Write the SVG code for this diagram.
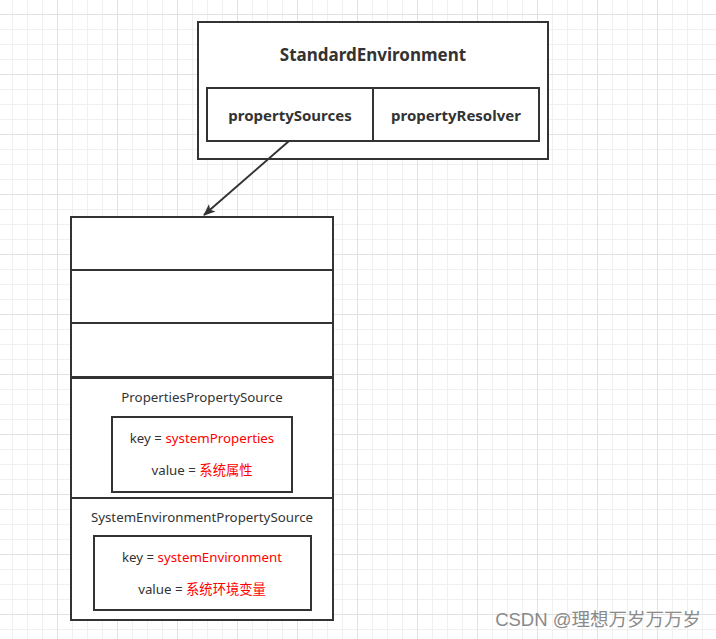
<svg xmlns="http://www.w3.org/2000/svg" width="716" height="639" viewBox="0 0 716 639">
<defs>
<pattern id="grid" patternUnits="userSpaceOnUse" x="-3" y="14" width="60" height="60">
<path d="M15.5 0V60M30.5 0V60M45.5 0V60M0 15.5H60M0 30.5H60M0 45.5H60" stroke="#f0f0f0" stroke-width="1" fill="none"/>
<path d="M0.5 0V60M0 0.5H60" stroke="#e2e2e2" stroke-width="1" fill="none"/>
</pattern>
<marker id="arrow" markerWidth="12" markerHeight="10" refX="11" refY="5" orient="auto" markerUnits="userSpaceOnUse">
<path d="M0 0L12 5L0 10L3 5Z" fill="#333"/>
</marker>
<style>
.box{fill:#fff;stroke:#333;stroke-width:2}
.line{fill:none;stroke:#333;stroke-width:2}
.t{font-family:"Noto Sans","Noto Sans CJK SC",sans-serif;fill:#333;text-anchor:middle}
.b{font-weight:bold;font-size:15px}
.n{font-size:13.3px}
.r{fill:#ff0000}
</style>
</defs>
<rect x="0" y="0" width="716" height="639" fill="#fff"/>
<rect x="0" y="0" width="716" height="639" fill="url(#grid)"/>

<g id="standard-environment">
<rect class="box" x="198" y="22" width="350" height="137"/>
<text class="t" x="373" y="61" style="font-weight:bold;font-size:17px">StandardEnvironment</text>
</g>
<g id="property-sources">
<rect class="box" x="207" y="88" width="166" height="53"/>
<text class="t b" x="290" y="121">propertySources</text>
</g>
<g id="property-resolver">
<rect class="box" x="373" y="88" width="166" height="53"/>
<text class="t b" x="456" y="121">propertyResolver</text>
</g>

<g id="list">
<rect class="box" x="71" y="217" width="262" height="403"/>
<path class="line" d="M71 270H333M71 323H333"/>
<path d="M71 377.5H333" stroke="#333" stroke-width="3"/>
<path class="line" d="M71 498H333"/>
</g>

<g id="properties-property-source">
<text class="t n" x="202" y="402">PropertiesPropertySource</text>
<rect class="box" x="112" y="417" width="180" height="75"/>
<text class="t n" x="202" y="443">key = <tspan class="r">systemProperties</tspan></text>
<text class="t n" x="202" y="475">value = <tspan class="r">系统属性</tspan></text>
</g>

<g id="system-environment-property-source">
<text class="t n" x="202" y="522">SystemEnvironmentPropertySource</text>
<rect class="box" x="94" y="536" width="217" height="74"/>
<text class="t n" x="202" y="562">key = <tspan class="r">systemEnvironment</tspan></text>
<text class="t n" x="202" y="594">value = <tspan class="r">系统环境变量</tspan></text>
</g>

<g id="connectors">
<path class="line" d="M289 141L204 215" marker-end="url(#arrow)"/>
</g>

<text x="701" y="626" text-anchor="end" style="font-family:'Liberation Sans','Noto Sans CJK SC',sans-serif;font-size:18.5px;fill:#8a8a8a">CSDN @理想万岁万万岁</text>
</svg>
